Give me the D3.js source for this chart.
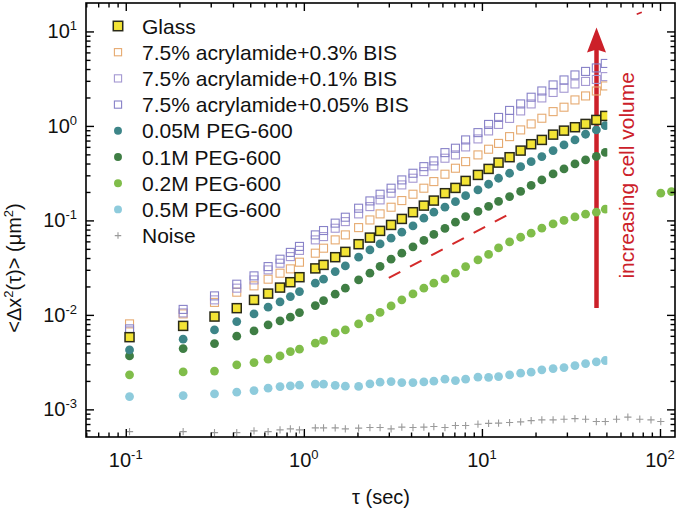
<!DOCTYPE html>
<html><head><meta charset="utf-8">
<script src="https://cdn.jsdelivr.net/npm/d3@7"></script>
<style>body{margin:0;background:#fff} svg{display:block;font-family:"Liberation Sans",Arial,Helvetica,sans-serif}</style>
</head><body>
<svg id="chart" width="677" height="510"></svg>
<script>
// ---- data ----
const tau = [0.105, 0.21, 0.315, 0.42, 0.525, 0.63, 0.735, 0.84, 0.945, 1.16, 1.29, 1.5, 1.71, 2.03, 2.35, 2.68, 3.09, 3.55, 4.1, 4.72, 5.37, 6.2, 7.1, 8.1, 9.5, 10.9, 12.4, 14.3, 16.5, 18.9, 21.7, 25.1, 28.9, 33.3, 38.2, 43.9, 49.3];
const glass = [5.81e-3, 7.65e-3, 9.60e-3, 0.01178, 0.01442, 0.0168, 0.01945, 0.02218, 0.02505, 0.03105, 0.03382, 0.0408, 0.04645, 0.056, 0.06577, 0.07745, 0.08954, 0.1037, 0.1221, 0.1434, 0.1621, 0.1941, 0.2208, 0.2618, 0.303, 0.3508, 0.409, 0.4665, 0.548, 0.6404, 0.7111, 0.809, 0.8917, 0.9688, 1.05, 1.157, 1.276];
const bis03 = [8.03e-3, 0.01025, 0.01356, 0.01739, 0.02028, 0.02387, 0.02763, 0.03069, 0.03612, 0.04498, 0.0508, 0.0622, 0.07025, 0.0839, 0.1011, 0.1172, 0.1379, 0.1621, 0.1893, 0.2192, 0.2575, 0.3083, 0.3566, 0.419, 0.4934, 0.5668, 0.6531, 0.7705, 0.9073, 1.05, 1.206, 1.417, 1.578, 1.884, 2.076, 2.344, 2.65];
const bis01 = [6.77e-3, 0.0105, 0.01442, 0.01918, 0.02346, 0.02994, 0.03524, 0.0414, 0.04816, 0.0622, 0.06742, 0.08266, 0.09709, 0.1172, 0.14, 0.1648, 0.1941, 0.2375, 0.2796, 0.3285, 0.3773, 0.4552, 0.4934, 0.5995, 0.7285, 0.8851, 1.037, 1.201, 1.441, 1.709, 1.978, 2.26, 2.505, 2.781, 2.958, 3.105, 3.325];
const bis005 = [7.11e-3, 0.01143, 0.01589, 0.02113, 0.02588, 0.03245, 0.03884, 0.04585, 0.05305, 0.07025, 0.07813, 0.09358, 0.1081, 0.1346, 0.1608, 0.1893, 0.2192, 0.2683, 0.3156, 0.3707, 0.4263, 0.5218, 0.5808, 0.7111, 0.8494, 1.037, 1.23, 1.459, 1.709, 2.013, 2.344, 2.716, 3.067, 3.464, 3.775, 4.11, 4.585];
const peg005 = [4.26e-3, 5.53e-3, 6.94e-3, 8.49e-3, 0.01025, 0.01207, 0.01374, 0.01563, 0.01766, 0.02168, 0.02389, 0.02873, 0.03301, 0.04083, 0.04876, 0.05641, 0.06484, 0.075, 0.08742, 0.1055, 0.1221, 0.1379, 0.1577, 0.1829, 0.2103, 0.2415, 0.2794, 0.3156, 0.3707, 0.4189, 0.4733, 0.548, 0.6295, 0.7111, 0.8168, 0.9072, 1.007];
const peg01 = [3.68e-3, 4.40e-3, 4.97e-3, 5.95e-3, 6.77e-3, 7.84e-3, 8.65e-3, 9.46e-3, 0.01058, 0.01254, 0.01416, 0.01656, 0.01918, 0.02346, 0.02763, 0.03261, 0.03884, 0.04498, 0.05247, 0.06143, 0.07111, 0.0823, 0.09574, 0.1097, 0.1245, 0.1408, 0.159, 0.1786, 0.2028, 0.2346, 0.2683, 0.3105, 0.3508, 0.3961, 0.4366, 0.4756, 0.5246];
const peg02 = [2.32e-3, 2.49e-3, 2.54e-3, 2.96e-3, 3.13e-3, 3.40e-3, 3.68e-3, 4.09e-3, 4.34e-3, 5.02e-3, 5.37e-3, 6.45e-3, 6.94e-3, 8.03e-3, 9.23e-3, 0.01062, 0.01245, 0.01442, 0.01668, 0.01918, 0.02168, 0.02404, 0.02763, 0.03245, 0.03821, 0.04366, 0.05117, 0.05918, 0.06637, 0.07321, 0.08266, 0.09183, 0.1, 0.1089, 0.1164, 0.1222, 0.1315];
const peg05 = [1.365e-3, 1.40e-3, 1.459e-3, 1.52e-3, 1.58e-3, 1.676e-3, 1.742e-3, 1.773e-3, 1.804e-3, 1.853e-3, 1.853e-3, 1.795e-3, 1.761e-3, 1.751e-3, 1.862e-3, 1.941e-3, 1.968e-3, 1.922e-3, 1.922e-3, 1.954e-3, 1.987e-3, 2.087e-3, 2.018e-3, 2.087e-3, 2.193e-3, 2.182e-3, 2.225e-3, 2.317e-3, 2.415e-3, 2.476e-3, 2.62e-3, 2.704e-3, 2.771e-3, 2.91e-3, 3.056e-3, 3.186e-3, 3.289e-3];
const noise = [5.82e-4, 5.82e-4, 5.68e-4, 5.68e-4, 5.92e-4, 5.82e-4, 6.07e-4, 6.22e-4, 6.07e-4, 6.37e-4, 6.37e-4, 6.37e-4, 6.22e-4, 6.33e-4, 6.42e-4, 6.42e-4, 6.22e-4, 6.48e-4, 6.42e-4, 6.48e-4, 6.58e-4, 6.42e-4, 6.74e-4, 6.74e-4, 6.97e-4, 7.11e-4, 7.15e-4, 7.25e-4, 7.37e-4, 7.61e-4, 7.74e-4, 7.74e-4, 7.87e-4, 7.99e-4, 7.87e-4, 7.43e-4, 7.43e-4];
const noiseTailTau = [57, 66, 77, 89, 101];
const noiseTail = [7.87e-4, 8.27e-4, 7.87e-4, 7.74e-4, 7.43e-4];
const peg02TailTau = [101, 116];
const peg02Tail = [0.194, 0.202];
const seriesNames = ["Glass", "7.5% acrylamide+0.3% BIS", "7.5% acrylamide+0.1% BIS", "7.5% acrylamide+0.05% BIS", "0.05M PEG-600", "0.1M PEG-600", "0.2M PEG-600", "0.5M PEG-600", "Noise"];
const xMajorTicks = [0.1, 1, 10, 100];
const xTickExp = ["-1", "0", "1", "2"];
const yMajorTicks = [1e-3, 1e-2, 1e-1, 1, 10];
const yTickExp = ["-3", "-2", "-1", "0", "1"];
const guideTau = [3, 14];
const guideMsd = [0.0246, 0.1148];

// ---- setup ----
const svg = d3.select("#chart");
const L = 86, R = 675, T = 3, B = 437;
const x = d3.scaleLog().domain([0.0598, 121.4]).range([L, R]);
const y = d3.scaleLog().domain([5.1e-4, 20]).range([B, T]);

const styles = [
  {type: "sqfill", fill: "#f3e435", stroke: "#2a2a18"},
  {type: "sqopen", stroke: "#e6aa70"},
  {type: "sqopen", stroke: "#a498d2"},
  {type: "sqopen", stroke: "#8882c8"},
  {type: "circle", fill: "#3d8588"},
  {type: "circle", fill: "#3f7e44"},
  {type: "circle", fill: "#80bd4a"},
  {type: "circle", fill: "#8ecbdc"},
  {type: "plus", stroke: "#9a9a9a"}
];

function drawMarker(g, st, cx, cy, scale) {
  const s = scale || 1;
  if (st.type === "sqfill") {
    const a = 9 * s;
    g.append("rect").attr("x", cx - a/2).attr("y", cy - a/2).attr("width", a).attr("height", a)
      .attr("fill", st.fill).attr("stroke", st.stroke).attr("stroke-width", 1.5);
  } else if (st.type === "sqopen") {
    const a = 8 * s;
    g.append("rect").attr("x", cx - a/2).attr("y", cy - a/2).attr("width", a).attr("height", a)
      .attr("fill", "none").attr("stroke", st.stroke).attr("stroke-width", 1.1);
  } else if (st.type === "circle") {
    g.append("circle").attr("cx", cx).attr("cy", cy).attr("r", 4.4 * s).attr("fill", st.fill);
  } else {
    const h = 3.6 * s;
    g.append("path").attr("d", `M${cx-h},${cy}H${cx+h}M${cx},${cy-h}V${cy+h}`)
      .attr("stroke", st.stroke).attr("stroke-width", 1.1).attr("fill", "none");
  }
}

// ---- arrow (under data) ----
const arrowTau = 44, arrowFrom = 0.0118, arrowTo = 11;
const ax = x(arrowTau), ay0 = y(arrowFrom), ayTip = y(arrowTo);
svg.append("line").attr("x1", ax).attr("x2", ax).attr("y1", ay0).attr("y2", ayTip + 20)
  .attr("stroke", "#cc2029").attr("stroke-width", 4.5);
svg.append("path").attr("d", `M${ax},${ayTip} L${ax+9.5},${ayTip+25} L${ax},${ayTip+22} L${ax-9.5},${ayTip+25} Z`)
  .attr("fill", "#cc2029");

// ---- slope-1 guide ----
svg.append("line").attr("x1", x(guideTau[0])).attr("y1", y(guideMsd[0]))
  .attr("x2", x(guideTau[1])).attr("y2", y(guideMsd[1]))
  .attr("stroke", "#d42a2a").attr("stroke-width", 2).attr("stroke-dasharray", "13,11");

// ---- data ----
const seriesVals = [glass, bis03, bis01, bis005, peg005, peg01, peg02, peg05, noise];
const drawOrder = [8, 7, 6, 5, 4, 1, 2, 3, 0];
const dataG = svg.append("g");
drawOrder.forEach(i => {
  const g = dataG.append("g");
  seriesVals[i].forEach((v, k) => drawMarker(g, styles[i], x(tau[k]), y(v)));
});

// annotation background box (hides part of the data, as in the original)
svg.append("rect").attr("x", x(50.6)).attr("y", y(14)).attr("width", x(95) - x(50.6)).attr("height", y(0.0013) - y(14))
  .attr("fill", "#fff");

// tails drawn after box
const tailG = svg.append("g");
noiseTail.forEach((v, k) => drawMarker(tailG, styles[8], x(noiseTailTau[k]), y(v)));
peg02Tail.forEach((v, k) => drawMarker(tailG, styles[6], x(peg02TailTau[k]), y(v)));

// annotation text
svg.append("text").attr("transform", `translate(${x(71)},${y(0.30)}) rotate(-90)`)
  .attr("text-anchor", "middle").attr("font-size", 21).attr("fill", "#cc2029")
  .text("increasing cell volume");
svg.append("path").attr("d", `M${x(74)},${y(15.2)} L${x(79)},${y(16)}`).attr("stroke", "#cc2029").attr("stroke-width", 1.6);

// ---- axes frame & ticks ----
function minorTicks(lo, hi) {
  const out = [];
  for (let e = -5; e <= 3; e++) for (let m = 2; m <= 9; m++) {
    const v = m * Math.pow(10, e);
    if (v > lo && v < hi) out.push(v);
  }
  return out;
}
const xMinor = minorTicks(0.0598, 121.4);
const yMinor = minorTicks(5.1e-4, 20);
function tickLayer(axis, tx, ty) {
  const g = svg.append("g").attr("transform", `translate(${tx},${ty})`).call(axis);
  g.select(".domain").remove();
  g.selectAll("line").attr("stroke", "#000").attr("stroke-width", 1.4);
  g.selectAll("text").remove();
}
tickLayer(d3.axisBottom(x).tickValues(xMajorTicks).tickSize(-8).tickFormat(""), 0, B);
tickLayer(d3.axisBottom(x).tickValues(xMinor).tickSize(-4.5).tickFormat(""), 0, B);
tickLayer(d3.axisTop(x).tickValues(xMajorTicks).tickSize(-8).tickFormat(""), 0, T);
tickLayer(d3.axisTop(x).tickValues(xMinor).tickSize(-4.5).tickFormat(""), 0, T);
tickLayer(d3.axisLeft(y).tickValues(yMajorTicks).tickSize(-8).tickFormat(""), L, 0);
tickLayer(d3.axisLeft(y).tickValues(yMinor).tickSize(-4.5).tickFormat(""), L, 0);
tickLayer(d3.axisRight(y).tickValues(yMajorTicks).tickSize(-8).tickFormat(""), R, 0);
tickLayer(d3.axisRight(y).tickValues(yMinor).tickSize(-4.5).tickFormat(""), R, 0);
svg.append("rect").attr("x", L).attr("y", T).attr("width", R - L).attr("height", B - T)
  .attr("fill", "none").attr("stroke", "#000").attr("stroke-width", 1.6);

// tick labels
xMajorTicks.forEach((v, i) => {
  const t = svg.append("text").attr("x", x(v)).attr("y", 467).attr("text-anchor", "middle").attr("font-size", 20).attr("fill", "#111");
  t.append("tspan").text("10");
  t.append("tspan").attr("dy", -8).attr("font-size", 13).text(xTickExp[i]);
});
yMajorTicks.forEach((v, i) => {
  const t = svg.append("text").attr("x", 77).attr("y", y(v) + 7).attr("text-anchor", "end").attr("font-size", 20).attr("fill", "#111");
  t.append("tspan").text("10");
  t.append("tspan").attr("dy", -8).attr("font-size", 13).text(yTickExp[i]);
});

// axis titles
svg.append("text").attr("x", 381).attr("y", 504).attr("text-anchor", "middle").attr("font-size", 20).attr("fill", "#111")
  .text("τ (sec)");
const yt = svg.append("text").attr("transform", `translate(21,268) rotate(-90)`).attr("text-anchor", "middle")
  .attr("font-size", 20).attr("fill", "#111");
yt.append("tspan").text("<Δx");
yt.append("tspan").attr("dy", -8).attr("font-size", 13).text("2");
yt.append("tspan").attr("dy", 8).text("(τ)> (μm");
yt.append("tspan").attr("dy", -8).attr("font-size", 13).text("2");
yt.append("tspan").attr("dy", 8).text(")");

// ---- legend ----
const leg = svg.append("g");
seriesNames.forEach((name, i) => {
  const cy = 26 + i * 26.2;
  drawMarker(leg, styles[i], 118, cy, i === 0 ? 1.05 : 0.9);
  leg.append("text").attr("x", 142).attr("y", cy + 7.5).attr("font-size", 21).attr("fill", "#111").text(name);
});
</script>
</body></html>
